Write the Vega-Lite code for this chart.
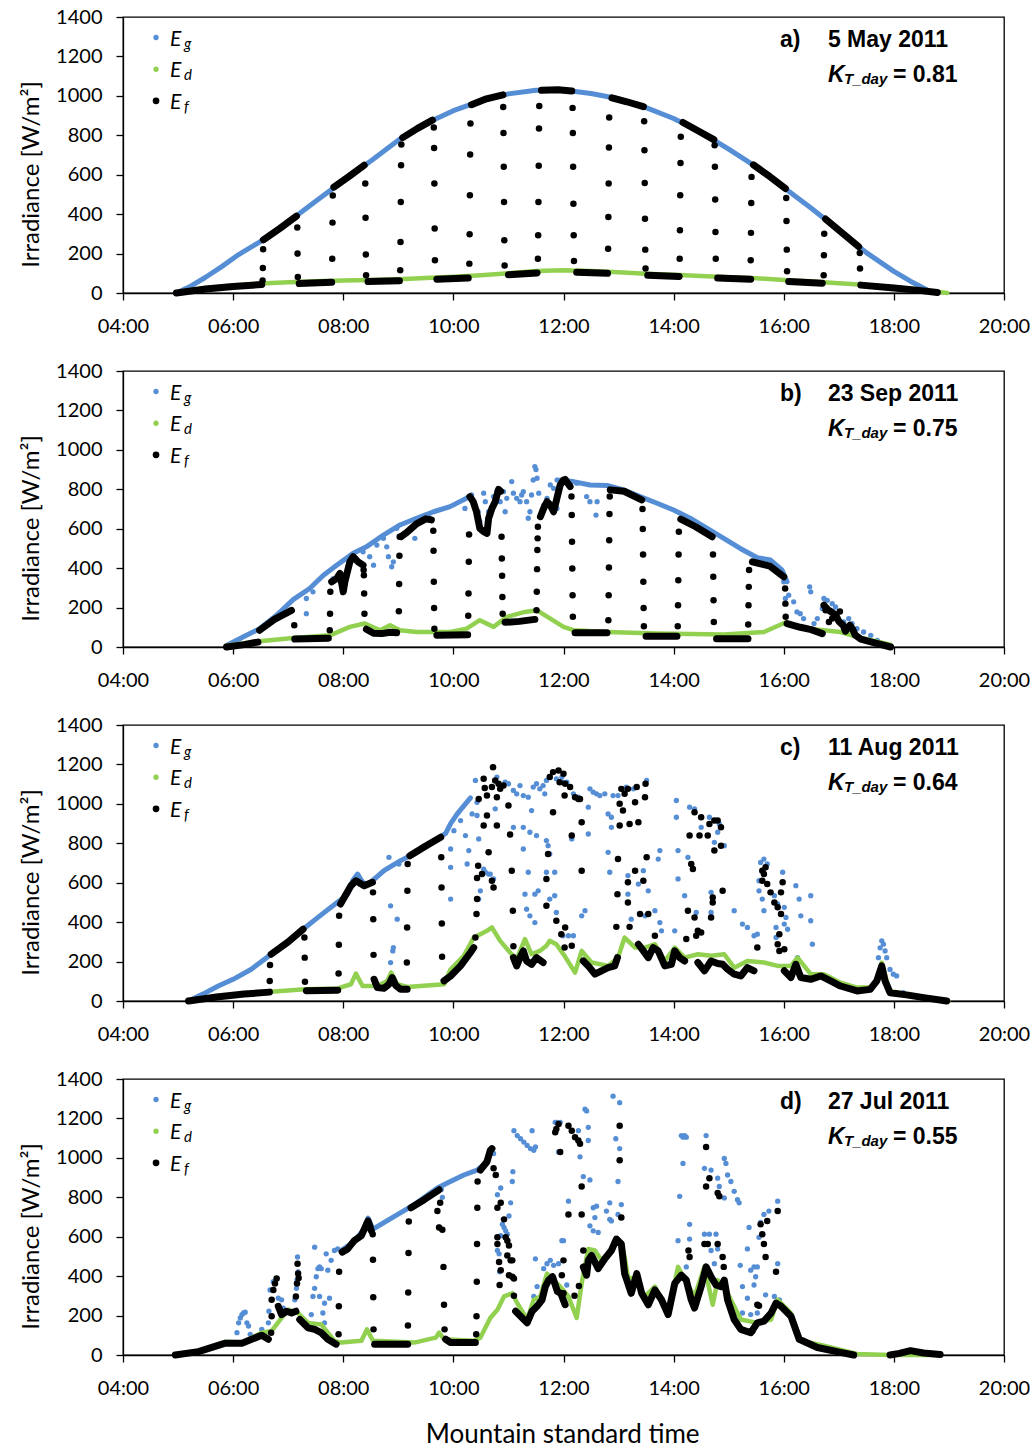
{
"$schema":"https://vega.github.io/schema/vega-lite/v6.json",
"background":"white",
"padding":{"left":18,"top":6,"right":6,"bottom":4},
"title":{"text":"Mountain standard time","orient":"bottom","anchor":"middle","font":"Lato","fontSize":26,"fontWeight":"normal","color":"#000","offset":23,"dx":38},
"data":{"values":[
{"p":"a","s":"T","t":15.93,"v":1249,"lab":"a)","dt":"5 May 2011","kt":"= 0.81"},
{"p":"b","s":"T","t":15.93,"v":1249,"lab":"b)","dt":"23 Sep 2011","kt":"= 0.75"},
{"p":"c","s":"T","t":15.93,"v":1249,"lab":"c)","dt":"11 Aug 2011","kt":"= 0.64"},
{"p":"d","s":"T","t":15.93,"v":1249,"lab":"d)","dt":"27 Jul 2011","kt":"= 0.55"},

{"p":"a","s":"g","t":4.97,"v":0},{"p":"a","s":"g","t":5.2,"v":30},{"p":"a","s":"g","t":5.5,"v":80},{"p":"a","s":"g","t":5.8,"v":135},{"p":"a","s":"g","t":6.1,"v":195},{"p":"a","s":"g","t":6.5,"v":262},{"p":"a","s":"g","t":7.0,"v":360},{"p":"a","s":"g","t":7.5,"v":465},{"p":"a","s":"g","t":8.0,"v":570},{"p":"a","s":"g","t":8.5,"v":670},{"p":"a","s":"g","t":9.0,"v":775},{"p":"a","s":"g","t":9.5,"v":860},{"p":"a","s":"g","t":10.0,"v":925},{"p":"a","s":"g","t":10.5,"v":975},{"p":"a","s":"g","t":11.0,"v":1010},{"p":"a","s":"g","t":11.5,"v":1028},{"p":"a","s":"g","t":12.0,"v":1030},{"p":"a","s":"g","t":12.5,"v":1012},{"p":"a","s":"g","t":13.0,"v":985},{"p":"a","s":"g","t":13.5,"v":940},{"p":"a","s":"g","t":14.0,"v":885},{"p":"a","s":"g","t":14.5,"v":815},{"p":"a","s":"g","t":15.0,"v":730},{"p":"a","s":"g","t":15.5,"v":640},{"p":"a","s":"g","t":16.0,"v":535},{"p":"a","s":"g","t":16.5,"v":430},{"p":"a","s":"g","t":17.0,"v":320},{"p":"a","s":"g","t":17.5,"v":205},{"p":"a","s":"g","t":18.0,"v":110},{"p":"a","s":"g","t":18.3,"v":60},{"p":"a","s":"g","t":18.64,"v":10},

{"p":"a","s":"d","t":4.97,"v":0},{"p":"a","s":"d","t":5.5,"v":25},{"p":"a","s":"d","t":6.0,"v":38},{"p":"a","s":"d","t":6.5,"v":48},{"p":"a","s":"d","t":7.0,"v":55},{"p":"a","s":"d","t":7.5,"v":60},{"p":"a","s":"d","t":8.0,"v":63},{"p":"a","s":"d","t":8.5,"v":66},{"p":"a","s":"d","t":9.0,"v":70},{"p":"a","s":"d","t":9.5,"v":76},{"p":"a","s":"d","t":10.0,"v":82},{"p":"a","s":"d","t":10.5,"v":90},{"p":"a","s":"d","t":11.0,"v":100},{"p":"a","s":"d","t":11.5,"v":112},{"p":"a","s":"d","t":12.0,"v":116},{"p":"a","s":"d","t":12.5,"v":112},{"p":"a","s":"d","t":13.0,"v":105},{"p":"a","s":"d","t":13.5,"v":98},{"p":"a","s":"d","t":14.0,"v":92},{"p":"a","s":"d","t":14.5,"v":86},{"p":"a","s":"d","t":15.0,"v":80},{"p":"a","s":"d","t":15.5,"v":75},{"p":"a","s":"d","t":16.0,"v":66},{"p":"a","s":"d","t":16.5,"v":58},{"p":"a","s":"d","t":17.0,"v":50},{"p":"a","s":"d","t":17.5,"v":40},{"p":"a","s":"d","t":18.0,"v":30},{"p":"a","s":"d","t":18.5,"v":15},{"p":"a","s":"d","t":18.97,"v":0},

{"p":"a","s":"f1","t":4.97,"v":0},{"p":"a","s":"f1","t":5.5,"v":20},{"p":"a","s":"f1","t":6.0,"v":33},{"p":"a","s":"f1","t":6.52,"v":43},
{"p":"a","s":"f2","t":6.55,"v":270},{"p":"a","s":"f2","t":6.85,"v":328},{"p":"a","s":"f2","t":7.15,"v":390},
{"p":"a","s":"f3","t":7.2,"v":48},{"p":"a","s":"f3","t":7.79,"v":54},
{"p":"a","s":"f4","t":7.83,"v":537},{"p":"a","s":"f4","t":8.1,"v":590},{"p":"a","s":"f4","t":8.38,"v":648},
{"p":"a","s":"f5","t":8.45,"v":58},{"p":"a","s":"f5","t":9.02,"v":62},
{"p":"a","s":"f6","t":9.08,"v":788},{"p":"a","s":"f6","t":9.35,"v":835},{"p":"a","s":"f6","t":9.62,"v":877},
{"p":"a","s":"f7","t":9.7,"v":70},{"p":"a","s":"f7","t":10.27,"v":76},
{"p":"a","s":"f8","t":10.33,"v":955},{"p":"a","s":"f8","t":10.6,"v":985},{"p":"a","s":"f8","t":10.9,"v":1005},
{"p":"a","s":"f9","t":11.0,"v":92},{"p":"a","s":"f9","t":11.52,"v":102},
{"p":"a","s":"f10","t":11.6,"v":1028},{"p":"a","s":"f10","t":11.9,"v":1031},{"p":"a","s":"f10","t":12.15,"v":1025},
{"p":"a","s":"f11","t":12.24,"v":105},{"p":"a","s":"f11","t":12.8,"v":100},
{"p":"a","s":"f12","t":12.88,"v":990},{"p":"a","s":"f12","t":13.15,"v":970},{"p":"a","s":"f12","t":13.45,"v":945},
{"p":"a","s":"f13","t":13.53,"v":90},{"p":"a","s":"f13","t":14.1,"v":84},
{"p":"a","s":"f14","t":14.17,"v":865},{"p":"a","s":"f14","t":14.45,"v":822},{"p":"a","s":"f14","t":14.73,"v":778},
{"p":"a","s":"f15","t":14.8,"v":76},{"p":"a","s":"f15","t":15.4,"v":70},
{"p":"a","s":"f16","t":15.45,"v":650},{"p":"a","s":"f16","t":15.75,"v":590},{"p":"a","s":"f16","t":16.03,"v":530},
{"p":"a","s":"f17","t":16.09,"v":58},{"p":"a","s":"f17","t":16.7,"v":50},
{"p":"a","s":"f18","t":16.76,"v":375},{"p":"a","s":"f18","t":17.06,"v":305},{"p":"a","s":"f18","t":17.36,"v":235},
{"p":"a","s":"f19","t":17.4,"v":40},{"p":"a","s":"f19","t":18.0,"v":25},{"p":"a","s":"f19","t":18.5,"v":12},{"p":"a","s":"f19","t":18.79,"v":3},

{"p":"a","s":"F","t":6.535,"v":64},{"p":"a","s":"F","t":6.54,"v":127},{"p":"a","s":"F","t":6.545,"v":222},
{"p":"a","s":"F","t":7.165,"v":332},{"p":"a","s":"F","t":7.17,"v":200},{"p":"a","s":"F","t":7.175,"v":81},
{"p":"a","s":"F","t":7.8,"v":174},{"p":"a","s":"F","t":7.805,"v":357},{"p":"a","s":"F","t":7.81,"v":494},
{"p":"a","s":"F","t":8.4,"v":555},{"p":"a","s":"F","t":8.405,"v":382},{"p":"a","s":"F","t":8.41,"v":195},{"p":"a","s":"F","t":8.415,"v":90},
{"p":"a","s":"F","t":9.035,"v":115},{"p":"a","s":"F","t":9.04,"v":259},{"p":"a","s":"F","t":9.045,"v":462},{"p":"a","s":"F","t":9.05,"v":648},{"p":"a","s":"F","t":9.055,"v":753},
{"p":"a","s":"F","t":9.645,"v":839},{"p":"a","s":"F","t":9.65,"v":736},{"p":"a","s":"F","t":9.655,"v":555},{"p":"a","s":"F","t":9.66,"v":327},{"p":"a","s":"F","t":9.665,"v":166},
{"p":"a","s":"F","t":10.29,"v":149},{"p":"a","s":"F","t":10.295,"v":298},{"p":"a","s":"F","t":10.3,"v":496},{"p":"a","s":"F","t":10.305,"v":702},{"p":"a","s":"F","t":10.31,"v":860},
{"p":"a","s":"F","t":10.905,"v":944},{"p":"a","s":"F","t":10.91,"v":812},{"p":"a","s":"F","t":10.915,"v":640},{"p":"a","s":"F","t":10.92,"v":462},{"p":"a","s":"F","t":10.925,"v":267},{"p":"a","s":"F","t":10.93,"v":140},
{"p":"a","s":"F","t":11.535,"v":174},{"p":"a","s":"F","t":11.54,"v":293},{"p":"a","s":"F","t":11.545,"v":462},{"p":"a","s":"F","t":11.55,"v":645},{"p":"a","s":"F","t":11.555,"v":834},{"p":"a","s":"F","t":11.56,"v":948},
{"p":"a","s":"F","t":12.165,"v":939},{"p":"a","s":"F","t":12.17,"v":812},{"p":"a","s":"F","t":12.175,"v":640},{"p":"a","s":"F","t":12.18,"v":453},{"p":"a","s":"F","t":12.185,"v":293},{"p":"a","s":"F","t":12.19,"v":162},
{"p":"a","s":"F","t":12.81,"v":225},{"p":"a","s":"F","t":12.815,"v":386},{"p":"a","s":"F","t":12.82,"v":555},{"p":"a","s":"F","t":12.825,"v":738},{"p":"a","s":"F","t":12.83,"v":890},
{"p":"a","s":"F","t":13.465,"v":871},{"p":"a","s":"F","t":13.47,"v":724},{"p":"a","s":"F","t":13.475,"v":558},{"p":"a","s":"F","t":13.48,"v":377},{"p":"a","s":"F","t":13.485,"v":220},{"p":"a","s":"F","t":13.49,"v":124},
{"p":"a","s":"F","t":14.11,"v":174},{"p":"a","s":"F","t":14.115,"v":318},{"p":"a","s":"F","t":14.12,"v":496},{"p":"a","s":"F","t":14.125,"v":660},{"p":"a","s":"F","t":14.13,"v":792},
{"p":"a","s":"F","t":14.745,"v":750},{"p":"a","s":"F","t":14.75,"v":640},{"p":"a","s":"F","t":14.755,"v":474},{"p":"a","s":"F","t":14.76,"v":310},{"p":"a","s":"F","t":14.765,"v":174},
{"p":"a","s":"F","t":15.4,"v":166},{"p":"a","s":"F","t":15.405,"v":305},{"p":"a","s":"F","t":15.41,"v":457},{"p":"a","s":"F","t":15.415,"v":589},
{"p":"a","s":"F","t":16.045,"v":482},{"p":"a","s":"F","t":16.05,"v":365},{"p":"a","s":"F","t":16.055,"v":220},{"p":"a","s":"F","t":16.06,"v":110},
{"p":"a","s":"F","t":16.725,"v":90},{"p":"a","s":"F","t":16.73,"v":191},{"p":"a","s":"F","t":16.735,"v":301},
{"p":"a","s":"F","t":17.38,"v":203},{"p":"a","s":"F","t":17.385,"v":124},

{"p":"b","s":"g","t":5.88,"v":8},{"p":"b","s":"g","t":6.18,"v":51},{"p":"b","s":"g","t":6.48,"v":93},{"p":"b","s":"g","t":6.79,"v":161},{"p":"b","s":"g","t":7.09,"v":240},{"p":"b","s":"g","t":7.39,"v":297},{"p":"b","s":"g","t":7.64,"v":364},{"p":"b","s":"g","t":7.88,"v":415},{"p":"b","s":"g","t":8.18,"v":475},{"p":"b","s":"g","t":8.42,"v":508},{"p":"b","s":"g","t":8.73,"v":568},{"p":"b","s":"g","t":9.03,"v":619},{"p":"b","s":"g","t":9.33,"v":653},{"p":"b","s":"g","t":9.64,"v":686},{"p":"b","s":"g","t":9.94,"v":712},{"p":"b","s":"g","t":10.3,"v":763},
{"p":"b","s":"g2","t":11.88,"v":847},{"p":"b","s":"g2","t":12.18,"v":839},{"p":"b","s":"g2","t":12.48,"v":822},{"p":"b","s":"g2","t":12.79,"v":819},{"p":"b","s":"g2","t":13.09,"v":797},{"p":"b","s":"g2","t":13.39,"v":763},{"p":"b","s":"g2","t":13.7,"v":729},{"p":"b","s":"g2","t":14.0,"v":695},{"p":"b","s":"g2","t":14.3,"v":653},{"p":"b","s":"g2","t":14.61,"v":602},{"p":"b","s":"g2","t":14.91,"v":551},{"p":"b","s":"g2","t":15.21,"v":500},{"p":"b","s":"g2","t":15.52,"v":453},{"p":"b","s":"g2","t":15.76,"v":441},{"p":"b","s":"g2","t":15.97,"v":390},{"p":"b","s":"g2","t":16.06,"v":331},

{"p":"b","s":"G","t":7.33,"v":246},{"p":"b","s":"G","t":7.33,"v":169},{"p":"b","s":"G","t":7.45,"v":280},{"p":"b","s":"G","t":7.82,"v":347},{"p":"b","s":"G","t":8.0,"v":314},{"p":"b","s":"G","t":8.03,"v":347},{"p":"b","s":"G","t":8.36,"v":483},{"p":"b","s":"G","t":8.48,"v":458},{"p":"b","s":"G","t":8.55,"v":415},{"p":"b","s":"G","t":8.61,"v":517},{"p":"b","s":"G","t":8.73,"v":551},{"p":"b","s":"G","t":8.79,"v":508},{"p":"b","s":"G","t":8.82,"v":458},{"p":"b","s":"G","t":8.88,"v":407},{"p":"b","s":"G","t":8.91,"v":432},{"p":"b","s":"G","t":8.97,"v":602},{"p":"b","s":"G","t":9.3,"v":551},{"p":"b","s":"G","t":9.55,"v":661},{"p":"b","s":"G","t":10.21,"v":703},
{"p":"b","s":"G","t":10.33,"v":771},{"p":"b","s":"G","t":10.39,"v":720},{"p":"b","s":"G","t":10.45,"v":686},{"p":"b","s":"G","t":10.48,"v":636},{"p":"b","s":"G","t":10.55,"v":780},{"p":"b","s":"G","t":10.58,"v":737},{"p":"b","s":"G","t":10.64,"v":686},{"p":"b","s":"G","t":10.73,"v":763},{"p":"b","s":"G","t":10.79,"v":788},{"p":"b","s":"G","t":10.85,"v":737},{"p":"b","s":"G","t":10.91,"v":788},{"p":"b","s":"G","t":10.94,"v":686},{"p":"b","s":"G","t":10.97,"v":754},{"p":"b","s":"G","t":11.06,"v":839},{"p":"b","s":"G","t":11.09,"v":780},{"p":"b","s":"G","t":11.15,"v":754},{"p":"b","s":"G","t":11.21,"v":737},{"p":"b","s":"G","t":11.24,"v":771},{"p":"b","s":"G","t":11.27,"v":788},{"p":"b","s":"G","t":11.33,"v":737},{"p":"b","s":"G","t":11.36,"v":653},{"p":"b","s":"G","t":11.39,"v":686},{"p":"b","s":"G","t":11.42,"v":771},{"p":"b","s":"G","t":11.45,"v":847},{"p":"b","s":"G","t":11.48,"v":915},{"p":"b","s":"G","t":11.5,"v":900},{"p":"b","s":"G","t":11.52,"v":856},{"p":"b","s":"G","t":11.55,"v":780},{"p":"b","s":"G","t":11.58,"v":669},{"p":"b","s":"G","t":11.64,"v":720},{"p":"b","s":"G","t":11.7,"v":754},{"p":"b","s":"G","t":11.76,"v":822},{"p":"b","s":"G","t":11.82,"v":805},{"p":"b","s":"G","t":11.88,"v":703},{"p":"b","s":"G","t":11.94,"v":822},
{"p":"b","s":"G","t":12.24,"v":831},{"p":"b","s":"G","t":12.42,"v":763},{"p":"b","s":"G","t":12.48,"v":737},{"p":"b","s":"G","t":12.59,"v":669},{"p":"b","s":"G","t":12.61,"v":737},
{"p":"b","s":"G","t":16.0,"v":331},{"p":"b","s":"G","t":16.03,"v":246},{"p":"b","s":"G","t":16.09,"v":263},{"p":"b","s":"G","t":16.18,"v":229},{"p":"b","s":"G","t":16.24,"v":178},{"p":"b","s":"G","t":16.3,"v":169},{"p":"b","s":"G","t":16.36,"v":144},{"p":"b","s":"G","t":16.47,"v":305},{"p":"b","s":"G","t":16.49,"v":280},{"p":"b","s":"G","t":16.55,"v":119},{"p":"b","s":"G","t":16.61,"v":144},{"p":"b","s":"G","t":16.7,"v":195},{"p":"b","s":"G","t":16.73,"v":246},{"p":"b","s":"G","t":16.79,"v":237},{"p":"b","s":"G","t":16.88,"v":220},{"p":"b","s":"G","t":16.94,"v":203},{"p":"b","s":"G","t":17.0,"v":178},{"p":"b","s":"G","t":17.09,"v":127},{"p":"b","s":"G","t":17.18,"v":144},{"p":"b","s":"G","t":17.24,"v":119},{"p":"b","s":"G","t":17.33,"v":93},{"p":"b","s":"G","t":17.45,"v":76},{"p":"b","s":"G","t":17.58,"v":59},{"p":"b","s":"G","t":17.7,"v":34},{"p":"b","s":"G","t":17.88,"v":12},

{"p":"b","s":"d","t":5.88,"v":8},{"p":"b","s":"d","t":6.48,"v":29},{"p":"b","s":"d","t":7.09,"v":46},{"p":"b","s":"d","t":7.76,"v":59},{"p":"b","s":"d","t":8.12,"v":102},{"p":"b","s":"d","t":8.39,"v":119},{"p":"b","s":"d","t":8.67,"v":85},{"p":"b","s":"d","t":8.85,"v":110},{"p":"b","s":"d","t":9.03,"v":85},{"p":"b","s":"d","t":9.33,"v":76},{"p":"b","s":"d","t":9.94,"v":76},{"p":"b","s":"d","t":10.24,"v":93},{"p":"b","s":"d","t":10.48,"v":136},{"p":"b","s":"d","t":10.73,"v":102},{"p":"b","s":"d","t":10.97,"v":153},{"p":"b","s":"d","t":11.3,"v":178},{"p":"b","s":"d","t":11.52,"v":186},{"p":"b","s":"d","t":11.76,"v":144},{"p":"b","s":"d","t":12.0,"v":102},{"p":"b","s":"d","t":12.18,"v":85},{"p":"b","s":"d","t":12.79,"v":76},{"p":"b","s":"d","t":13.7,"v":68},{"p":"b","s":"d","t":14.91,"v":63},{"p":"b","s":"d","t":15.64,"v":76},{"p":"b","s":"d","t":16.03,"v":124},{"p":"b","s":"d","t":16.42,"v":93},{"p":"b","s":"d","t":16.73,"v":85},{"p":"b","s":"d","t":17.03,"v":76},{"p":"b","s":"d","t":17.33,"v":51},{"p":"b","s":"d","t":17.94,"v":12},

{"p":"b","s":"f1","t":5.88,"v":0},{"p":"b","s":"f1","t":6.2,"v":12},{"p":"b","s":"f1","t":6.45,"v":25},
{"p":"b","s":"f2","t":6.48,"v":85},{"p":"b","s":"f2","t":6.75,"v":140},{"p":"b","s":"f2","t":7.06,"v":186},
{"p":"b","s":"f3","t":7.12,"v":40},{"p":"b","s":"f3","t":7.73,"v":45},
{"p":"b","s":"f4","t":7.79,"v":331},{"p":"b","s":"f4","t":7.88,"v":347},{"p":"b","s":"f4","t":7.94,"v":373},{"p":"b","s":"f4","t":8.0,"v":280},{"p":"b","s":"f4","t":8.03,"v":331},{"p":"b","s":"f4","t":8.12,"v":432},{"p":"b","s":"f4","t":8.18,"v":458},{"p":"b","s":"f4","t":8.27,"v":432},{"p":"b","s":"f4","t":8.36,"v":415},
{"p":"b","s":"f5","t":8.42,"v":90},{"p":"b","s":"f5","t":8.55,"v":70},{"p":"b","s":"f5","t":8.7,"v":68},{"p":"b","s":"f5","t":8.85,"v":75},{"p":"b","s":"f5","t":8.97,"v":72},
{"p":"b","s":"f6","t":9.05,"v":560},{"p":"b","s":"f6","t":9.15,"v":580},{"p":"b","s":"f6","t":9.33,"v":625},{"p":"b","s":"f6","t":9.5,"v":650},{"p":"b","s":"f6","t":9.6,"v":645},
{"p":"b","s":"f7","t":9.7,"v":60},{"p":"b","s":"f7","t":10.26,"v":62},
{"p":"b","s":"f8","t":10.3,"v":763},{"p":"b","s":"f8","t":10.36,"v":737},{"p":"b","s":"f8","t":10.42,"v":686},{"p":"b","s":"f8","t":10.48,"v":602},{"p":"b","s":"f8","t":10.55,"v":585},{"p":"b","s":"f8","t":10.61,"v":576},{"p":"b","s":"f8","t":10.64,"v":653},{"p":"b","s":"f8","t":10.7,"v":703},{"p":"b","s":"f8","t":10.76,"v":737},{"p":"b","s":"f8","t":10.82,"v":800},{"p":"b","s":"f8","t":10.86,"v":790},
{"p":"b","s":"f9","t":10.94,"v":125},{"p":"b","s":"f9","t":11.2,"v":130},{"p":"b","s":"f9","t":11.48,"v":140},
{"p":"b","s":"f10","t":11.58,"v":661},{"p":"b","s":"f10","t":11.64,"v":703},{"p":"b","s":"f10","t":11.7,"v":737},{"p":"b","s":"f10","t":11.76,"v":720},{"p":"b","s":"f10","t":11.82,"v":686},{"p":"b","s":"f10","t":11.88,"v":754},{"p":"b","s":"f10","t":11.94,"v":822},{"p":"b","s":"f10","t":12.0,"v":847},{"p":"b","s":"f10","t":12.03,"v":850},{"p":"b","s":"f10","t":12.12,"v":814},
{"p":"b","s":"f11","t":12.21,"v":72},{"p":"b","s":"f11","t":12.79,"v":72},
{"p":"b","s":"f12","t":12.85,"v":797},{"p":"b","s":"f12","t":13.1,"v":790},{"p":"b","s":"f12","t":13.42,"v":746},
{"p":"b","s":"f13","t":13.5,"v":55},{"p":"b","s":"f13","t":14.06,"v":55},
{"p":"b","s":"f14","t":14.13,"v":649},{"p":"b","s":"f14","t":14.4,"v":610},{"p":"b","s":"f14","t":14.7,"v":559},
{"p":"b","s":"f15","t":14.78,"v":42},{"p":"b","s":"f15","t":15.35,"v":42},
{"p":"b","s":"f16","t":15.43,"v":432},{"p":"b","s":"f16","t":15.6,"v":420},{"p":"b","s":"f16","t":15.75,"v":410},{"p":"b","s":"f16","t":16.0,"v":356},
{"p":"b","s":"f17","t":16.06,"v":119},{"p":"b","s":"f17","t":16.3,"v":100},{"p":"b","s":"f17","t":16.5,"v":88},{"p":"b","s":"f17","t":16.7,"v":68},
{"p":"b","s":"f18","t":16.73,"v":212},{"p":"b","s":"f18","t":16.8,"v":190},{"p":"b","s":"f18","t":16.88,"v":175},{"p":"b","s":"f18","t":16.95,"v":160},{"p":"b","s":"f18","t":17.0,"v":130},{"p":"b","s":"f18","t":17.08,"v":110},{"p":"b","s":"f18","t":17.12,"v":80},{"p":"b","s":"f18","t":17.2,"v":110},{"p":"b","s":"f18","t":17.25,"v":90},{"p":"b","s":"f18","t":17.3,"v":60},{"p":"b","s":"f18","t":17.4,"v":40},{"p":"b","s":"f18","t":17.6,"v":25},{"p":"b","s":"f18","t":17.94,"v":0},

{"p":"b","s":"F","t":7.11,"v":110},
{"p":"b","s":"F","t":7.755,"v":85},{"p":"b","s":"F","t":7.76,"v":169},{"p":"b","s":"F","t":7.765,"v":280},
{"p":"b","s":"F","t":8.37,"v":390},{"p":"b","s":"F","t":8.375,"v":364},{"p":"b","s":"F","t":8.38,"v":271},{"p":"b","s":"F","t":8.385,"v":169},
{"p":"b","s":"F","t":9.01,"v":181},{"p":"b","s":"F","t":9.015,"v":319},{"p":"b","s":"F","t":9.02,"v":463},{"p":"b","s":"F","t":9.025,"v":559},
{"p":"b","s":"F","t":9.635,"v":590},{"p":"b","s":"F","t":9.64,"v":488},{"p":"b","s":"F","t":9.645,"v":331},{"p":"b","s":"F","t":9.65,"v":198},{"p":"b","s":"F","t":9.655,"v":93},
{"p":"b","s":"F","t":10.27,"v":158},{"p":"b","s":"F","t":10.275,"v":271},{"p":"b","s":"F","t":10.28,"v":432},{"p":"b","s":"F","t":10.285,"v":571},
{"p":"b","s":"F","t":10.875,"v":559},{"p":"b","s":"F","t":10.88,"v":449},{"p":"b","s":"F","t":10.885,"v":361},{"p":"b","s":"F","t":10.89,"v":254},{"p":"b","s":"F","t":10.895,"v":169},
{"p":"b","s":"F","t":11.51,"v":186},{"p":"b","s":"F","t":11.515,"v":280},{"p":"b","s":"F","t":11.52,"v":395},{"p":"b","s":"F","t":11.525,"v":492},{"p":"b","s":"F","t":11.53,"v":551},{"p":"b","s":"F","t":11.535,"v":610},
{"p":"b","s":"F","t":12.145,"v":763},{"p":"b","s":"F","t":12.15,"v":669},{"p":"b","s":"F","t":12.155,"v":534},{"p":"b","s":"F","t":12.16,"v":398},{"p":"b","s":"F","t":12.165,"v":263},{"p":"b","s":"F","t":12.17,"v":153},
{"p":"b","s":"F","t":12.815,"v":136},{"p":"b","s":"F","t":12.82,"v":263},{"p":"b","s":"F","t":12.825,"v":403},{"p":"b","s":"F","t":12.83,"v":542},{"p":"b","s":"F","t":12.835,"v":675},{"p":"b","s":"F","t":12.84,"v":763},
{"p":"b","s":"F","t":13.435,"v":700},{"p":"b","s":"F","t":13.44,"v":598},{"p":"b","s":"F","t":13.445,"v":469},{"p":"b","s":"F","t":13.45,"v":331},{"p":"b","s":"F","t":13.455,"v":198},{"p":"b","s":"F","t":13.46,"v":105},
{"p":"b","s":"F","t":14.075,"v":105},{"p":"b","s":"F","t":14.08,"v":212},{"p":"b","s":"F","t":14.085,"v":339},{"p":"b","s":"F","t":14.09,"v":469},{"p":"b","s":"F","t":14.095,"v":585},
{"p":"b","s":"F","t":14.715,"v":469},{"p":"b","s":"F","t":14.72,"v":356},{"p":"b","s":"F","t":14.725,"v":237},{"p":"b","s":"F","t":14.73,"v":127},
{"p":"b","s":"F","t":15.355,"v":114},{"p":"b","s":"F","t":15.36,"v":212},{"p":"b","s":"F","t":15.365,"v":305},{"p":"b","s":"F","t":15.37,"v":390},
{"p":"b","s":"F","t":16.025,"v":297},{"p":"b","s":"F","t":16.03,"v":220},{"p":"b","s":"F","t":16.035,"v":153},
{"p":"b","s":"F","t":16.76,"v":186},{"p":"b","s":"F","t":16.82,"v":127},{"p":"b","s":"F","t":16.88,"v":144},{"p":"b","s":"F","t":16.91,"v":169},{"p":"b","s":"F","t":17.02,"v":180},{"p":"b","s":"F","t":17.15,"v":100},

{"p":"c","s":"g","t":5.19,"v":0},{"p":"c","s":"g","t":5.45,"v":35},{"p":"c","s":"g","t":5.73,"v":76},{"p":"c","s":"g","t":6.0,"v":110},{"p":"c","s":"g","t":6.33,"v":161},{"p":"c","s":"g","t":6.69,"v":237},{"p":"c","s":"g","t":7.0,"v":300},{"p":"c","s":"g","t":7.27,"v":364},{"p":"c","s":"g","t":7.54,"v":424},{"p":"c","s":"g","t":7.93,"v":508},{"p":"c","s":"g","t":8.08,"v":542},{"p":"c","s":"g","t":8.17,"v":610},{"p":"c","s":"g","t":8.26,"v":644},{"p":"c","s":"g","t":8.35,"v":602},{"p":"c","s":"g","t":8.44,"v":593},{"p":"c","s":"g","t":8.53,"v":610},{"p":"c","s":"g","t":8.74,"v":661},{"p":"c","s":"g","t":9.04,"v":712},{"p":"c","s":"g","t":9.34,"v":754},{"p":"c","s":"g","t":9.7,"v":822},{"p":"c","s":"g","t":9.86,"v":850},{"p":"c","s":"g","t":9.95,"v":900},{"p":"c","s":"g","t":10.07,"v":949},{"p":"c","s":"g","t":10.19,"v":990},{"p":"c","s":"g","t":10.31,"v":1030},

{"p":"c","s":"G","t":8.83,"v":729},{"p":"c","s":"G","t":9.01,"v":695},{"p":"c","s":"G","t":8.86,"v":483},{"p":"c","s":"G","t":8.98,"v":415},{"p":"c","s":"G","t":8.91,"v":271},{"p":"c","s":"G","t":8.9,"v":254},{"p":"c","s":"G","t":8.86,"v":195},{"p":"c","s":"G","t":9.95,"v":771},{"p":"c","s":"G","t":9.95,"v":678},{"p":"c","s":"G","t":9.95,"v":517},{"p":"c","s":"G","t":10.01,"v":864},{"p":"c","s":"G","t":10.13,"v":915},{"p":"c","s":"G","t":10.22,"v":839},{"p":"c","s":"G","t":10.25,"v":695},{"p":"c","s":"G","t":10.28,"v":763},{"p":"c","s":"G","t":10.34,"v":949},{"p":"c","s":"G","t":10.43,"v":941},{"p":"c","s":"G","t":10.46,"v":822},{"p":"c","s":"G","t":10.43,"v":1008},{"p":"c","s":"G","t":10.4,"v":1119},{"p":"c","s":"G","t":10.46,"v":517},{"p":"c","s":"G","t":10.49,"v":559},{"p":"c","s":"G","t":10.55,"v":669},{"p":"c","s":"G","t":10.58,"v":653},{"p":"c","s":"G","t":10.64,"v":644},{"p":"c","s":"G","t":10.67,"v":644},{"p":"c","s":"G","t":10.73,"v":619},{"p":"c","s":"G","t":10.76,"v":975},{"p":"c","s":"G","t":10.73,"v":1186},{"p":"c","s":"G","t":10.79,"v":1136},{"p":"c","s":"G","t":10.85,"v":1085},{"p":"c","s":"G","t":10.94,"v":1110},{"p":"c","s":"G","t":11.0,"v":1102},{"p":"c","s":"G","t":11.09,"v":1068},{"p":"c","s":"G","t":11.15,"v":1051},{"p":"c","s":"G","t":11.21,"v":1093},{"p":"c","s":"G","t":11.27,"v":1042},{"p":"c","s":"G","t":11.36,"v":1034},{"p":"c","s":"G","t":11.42,"v":966},{"p":"c","s":"G","t":11.45,"v":1085},{"p":"c","s":"G","t":11.51,"v":1102},{"p":"c","s":"G","t":11.57,"v":1076},{"p":"c","s":"G","t":11.63,"v":1093},{"p":"c","s":"G","t":11.66,"v":1051},{"p":"c","s":"G","t":11.69,"v":1119},{"p":"c","s":"G","t":11.75,"v":1136},{"p":"c","s":"G","t":11.87,"v":1127},{"p":"c","s":"G","t":11.99,"v":1110},{"p":"c","s":"G","t":11.09,"v":881},{"p":"c","s":"G","t":11.27,"v":881},{"p":"c","s":"G","t":11.39,"v":856},{"p":"c","s":"G","t":11.51,"v":839},{"p":"c","s":"G","t":11.69,"v":814},{"p":"c","s":"G","t":11.72,"v":788},{"p":"c","s":"G","t":11.75,"v":746},{"p":"c","s":"G","t":11.27,"v":771},{"p":"c","s":"G","t":11.36,"v":653},{"p":"c","s":"G","t":11.54,"v":559},{"p":"c","s":"G","t":11.3,"v":542},{"p":"c","s":"G","t":11.48,"v":542},{"p":"c","s":"G","t":11.33,"v":466},{"p":"c","s":"G","t":11.39,"v":432},{"p":"c","s":"G","t":11.48,"v":398},{"p":"c","s":"G","t":11.69,"v":653},{"p":"c","s":"G","t":11.75,"v":517},{"p":"c","s":"G","t":11.84,"v":534},{"p":"c","s":"G","t":11.87,"v":449},{"p":"c","s":"G","t":11.99,"v":331},{"p":"c","s":"G","t":11.84,"v":653},
{"p":"c","s":"G","t":11.97,"v":1136},{"p":"c","s":"G","t":12.06,"v":1110},{"p":"c","s":"G","t":12.18,"v":1051},{"p":"c","s":"G","t":12.27,"v":1034},{"p":"c","s":"G","t":12.48,"v":1076},{"p":"c","s":"G","t":12.54,"v":1059},{"p":"c","s":"G","t":12.6,"v":1051},{"p":"c","s":"G","t":12.66,"v":1042},{"p":"c","s":"G","t":12.75,"v":1051},{"p":"c","s":"G","t":12.9,"v":1042},{"p":"c","s":"G","t":12.99,"v":1042},{"p":"c","s":"G","t":13.08,"v":1076},{"p":"c","s":"G","t":13.14,"v":1085},{"p":"c","s":"G","t":13.27,"v":1076},{"p":"c","s":"G","t":13.51,"v":1119},{"p":"c","s":"G","t":12.45,"v":983},{"p":"c","s":"G","t":12.81,"v":949},{"p":"c","s":"G","t":12.87,"v":932},{"p":"c","s":"G","t":12.87,"v":881},{"p":"c","s":"G","t":12.45,"v":847},{"p":"c","s":"G","t":12.15,"v":822},{"p":"c","s":"G","t":12.81,"v":754},{"p":"c","s":"G","t":12.84,"v":653},{"p":"c","s":"G","t":13.17,"v":636},{"p":"c","s":"G","t":13.17,"v":542},{"p":"c","s":"G","t":13.36,"v":593},{"p":"c","s":"G","t":13.45,"v":661},{"p":"c","s":"G","t":13.54,"v":559},{"p":"c","s":"G","t":13.72,"v":720},{"p":"c","s":"G","t":13.66,"v":458},{"p":"c","s":"G","t":13.75,"v":763},{"p":"c","s":"G","t":12.39,"v":458},{"p":"c","s":"G","t":12.33,"v":432},{"p":"c","s":"G","t":12.09,"v":331},{"p":"c","s":"G","t":12.18,"v":331},{"p":"c","s":"G","t":13.23,"v":415},{"p":"c","s":"G","t":13.48,"v":432},{"p":"c","s":"G","t":13.75,"v":398},{"p":"c","s":"G","t":13.78,"v":356},{"p":"c","s":"G","t":14.02,"v":356},{"p":"c","s":"G","t":14.05,"v":1017},{"p":"c","s":"G","t":14.05,"v":932},{"p":"c","s":"G","t":14.08,"v":763},{"p":"c","s":"G","t":14.08,"v":619},{"p":"c","s":"G","t":14.2,"v":534},{"p":"c","s":"G","t":14.26,"v":729},{"p":"c","s":"G","t":14.29,"v":983},{"p":"c","s":"G","t":14.38,"v":975},{"p":"c","s":"G","t":14.5,"v":881},{"p":"c","s":"G","t":14.65,"v":932},{"p":"c","s":"G","t":14.83,"v":898},{"p":"c","s":"G","t":14.92,"v":788},{"p":"c","s":"G","t":14.74,"v":805},{"p":"c","s":"G","t":14.8,"v":856},{"p":"c","s":"G","t":14.68,"v":551},{"p":"c","s":"G","t":14.41,"v":449},{"p":"c","s":"G","t":14.68,"v":449},{"p":"c","s":"G","t":15.1,"v":458},{"p":"c","s":"G","t":15.25,"v":390},{"p":"c","s":"G","t":15.34,"v":373},{"p":"c","s":"G","t":15.46,"v":331},{"p":"c","s":"G","t":15.52,"v":339},{"p":"c","s":"G","t":15.58,"v":703},{"p":"c","s":"G","t":15.64,"v":720},{"p":"c","s":"G","t":15.7,"v":695},{"p":"c","s":"G","t":15.55,"v":610},{"p":"c","s":"G","t":15.55,"v":559},{"p":"c","s":"G","t":15.61,"v":517},{"p":"c","s":"G","t":15.64,"v":458},{"p":"c","s":"G","t":15.83,"v":534},{"p":"c","s":"G","t":15.89,"v":492},{"p":"c","s":"G","t":15.98,"v":653},{"p":"c","s":"G","t":16.01,"v":475},{"p":"c","s":"G","t":16.04,"v":424},{"p":"c","s":"G","t":16.07,"v":364},{"p":"c","s":"G","t":15.86,"v":373},{"p":"c","s":"G","t":15.86,"v":322},{"p":"c","s":"G","t":16.01,"v":390},{"p":"c","s":"G","t":16.22,"v":585},{"p":"c","s":"G","t":16.28,"v":517},{"p":"c","s":"G","t":16.31,"v":432},{"p":"c","s":"G","t":16.25,"v":220},{"p":"c","s":"G","t":16.49,"v":534},{"p":"c","s":"G","t":16.49,"v":407},{"p":"c","s":"G","t":16.52,"v":288},{"p":"c","s":"G","t":17.72,"v":220},{"p":"c","s":"G","t":17.75,"v":270},{"p":"c","s":"G","t":17.78,"v":305},{"p":"c","s":"G","t":17.81,"v":288},{"p":"c","s":"G","t":17.84,"v":254},{"p":"c","s":"G","t":17.87,"v":220},{"p":"c","s":"G","t":17.93,"v":160},{"p":"c","s":"G","t":17.99,"v":136},{"p":"c","s":"G","t":18.05,"v":127},{"p":"c","s":"G","t":18.17,"v":42},

{"p":"c","s":"d","t":5.19,"v":0},{"p":"c","s":"d","t":5.73,"v":25},{"p":"c","s":"d","t":6.69,"v":47},{"p":"c","s":"d","t":7.3,"v":59},{"p":"c","s":"d","t":7.9,"v":64},{"p":"c","s":"d","t":8.14,"v":85},{"p":"c","s":"d","t":8.23,"v":139},{"p":"c","s":"d","t":8.35,"v":76},{"p":"c","s":"d","t":8.62,"v":76},{"p":"c","s":"d","t":8.8,"v":102},{"p":"c","s":"d","t":8.87,"v":144},{"p":"c","s":"d","t":8.98,"v":85},{"p":"c","s":"d","t":9.16,"v":71},{"p":"c","s":"d","t":9.83,"v":85},{"p":"c","s":"d","t":9.95,"v":161},{"p":"c","s":"d","t":10.19,"v":229},{"p":"c","s":"d","t":10.37,"v":322},{"p":"c","s":"d","t":10.49,"v":339},{"p":"c","s":"d","t":10.61,"v":356},{"p":"c","s":"d","t":10.7,"v":373},{"p":"c","s":"d","t":10.85,"v":305},{"p":"c","s":"d","t":11.03,"v":246},{"p":"c","s":"d","t":11.15,"v":212},{"p":"c","s":"d","t":11.3,"v":314},{"p":"c","s":"d","t":11.42,"v":237},{"p":"c","s":"d","t":11.57,"v":254},{"p":"c","s":"d","t":11.69,"v":280},{"p":"c","s":"d","t":11.75,"v":305},{"p":"c","s":"d","t":11.87,"v":288},{"p":"c","s":"d","t":12.02,"v":229},{"p":"c","s":"d","t":12.21,"v":144},{"p":"c","s":"d","t":12.33,"v":254},{"p":"c","s":"d","t":12.51,"v":195},{"p":"c","s":"d","t":12.81,"v":178},{"p":"c","s":"d","t":12.99,"v":220},{"p":"c","s":"d","t":13.11,"v":322},{"p":"c","s":"d","t":13.3,"v":271},{"p":"c","s":"d","t":13.48,"v":271},{"p":"c","s":"d","t":13.66,"v":288},{"p":"c","s":"d","t":13.84,"v":203},{"p":"c","s":"d","t":14.02,"v":271},{"p":"c","s":"d","t":14.2,"v":220},{"p":"c","s":"d","t":14.44,"v":237},{"p":"c","s":"d","t":14.68,"v":229},{"p":"c","s":"d","t":14.92,"v":237},{"p":"c","s":"d","t":15.1,"v":169},{"p":"c","s":"d","t":15.34,"v":203},{"p":"c","s":"d","t":15.64,"v":195},{"p":"c","s":"d","t":15.89,"v":178},{"p":"c","s":"d","t":16.13,"v":178},{"p":"c","s":"d","t":16.25,"v":220},{"p":"c","s":"d","t":16.49,"v":136},{"p":"c","s":"d","t":16.73,"v":136},{"p":"c","s":"d","t":17.03,"v":93},{"p":"c","s":"d","t":17.33,"v":68},{"p":"c","s":"d","t":17.57,"v":68},{"p":"c","s":"d","t":17.69,"v":102},{"p":"c","s":"d","t":17.78,"v":195},{"p":"c","s":"d","t":17.87,"v":102},{"p":"c","s":"d","t":17.93,"v":51},{"p":"c","s":"d","t":18.23,"v":34},{"p":"c","s":"d","t":18.54,"v":20},{"p":"c","s":"d","t":18.99,"v":0},

{"p":"c","s":"f1","t":5.19,"v":0},{"p":"c","s":"f1","t":5.7,"v":20},{"p":"c","s":"f1","t":6.2,"v":35},{"p":"c","s":"f1","t":6.66,"v":45},
{"p":"c","s":"f2","t":6.69,"v":237},{"p":"c","s":"f2","t":7.0,"v":300},{"p":"c","s":"f2","t":7.27,"v":364},
{"p":"c","s":"f3","t":7.33,"v":52},{"p":"c","s":"f3","t":7.9,"v":55},
{"p":"c","s":"f4","t":7.95,"v":492},{"p":"c","s":"f4","t":8.14,"v":585},{"p":"c","s":"f4","t":8.23,"v":610},{"p":"c","s":"f4","t":8.38,"v":585},{"p":"c","s":"f4","t":8.53,"v":602},
{"p":"c","s":"f5","t":8.56,"v":110},{"p":"c","s":"f5","t":8.62,"v":68},{"p":"c","s":"f5","t":8.74,"v":64},{"p":"c","s":"f5","t":8.83,"v":85},{"p":"c","s":"f5","t":8.89,"v":119},{"p":"c","s":"f5","t":8.95,"v":80},{"p":"c","s":"f5","t":9.04,"v":59},{"p":"c","s":"f5","t":9.16,"v":59},
{"p":"c","s":"f6","t":9.21,"v":737},{"p":"c","s":"f6","t":9.46,"v":780},{"p":"c","s":"f6","t":9.77,"v":831},
{"p":"c","s":"f7","t":9.83,"v":102},{"p":"c","s":"f7","t":9.95,"v":127},{"p":"c","s":"f7","t":10.13,"v":178},{"p":"c","s":"f7","t":10.31,"v":246},{"p":"c","s":"f7","t":10.37,"v":271},
{"p":"c","s":"f8","t":11.09,"v":220},{"p":"c","s":"f8","t":11.15,"v":178},{"p":"c","s":"f8","t":11.21,"v":220},{"p":"c","s":"f8","t":11.27,"v":254},{"p":"c","s":"f8","t":11.33,"v":203},{"p":"c","s":"f8","t":11.42,"v":186},{"p":"c","s":"f8","t":11.51,"v":220},{"p":"c","s":"f8","t":11.63,"v":195},
{"p":"c","s":"f9","t":12.36,"v":203},{"p":"c","s":"f9","t":12.45,"v":178},{"p":"c","s":"f9","t":12.57,"v":136},{"p":"c","s":"f9","t":12.69,"v":153},{"p":"c","s":"f9","t":12.81,"v":169},{"p":"c","s":"f9","t":12.93,"v":178},{"p":"c","s":"f9","t":12.98,"v":220},
{"p":"c","s":"f10","t":13.36,"v":288},{"p":"c","s":"f10","t":13.45,"v":254},{"p":"c","s":"f10","t":13.54,"v":220},{"p":"c","s":"f10","t":13.63,"v":271},{"p":"c","s":"f10","t":13.72,"v":254},{"p":"c","s":"f10","t":13.84,"v":178},{"p":"c","s":"f10","t":13.96,"v":186},{"p":"c","s":"f10","t":14.02,"v":254},{"p":"c","s":"f10","t":14.11,"v":220},{"p":"c","s":"f10","t":14.2,"v":203},
{"p":"c","s":"f11","t":14.44,"v":195},{"p":"c","s":"f11","t":14.56,"v":153},{"p":"c","s":"f11","t":14.68,"v":203},{"p":"c","s":"f11","t":14.8,"v":190},{"p":"c","s":"f11","t":14.89,"v":186},{"p":"c","s":"f11","t":14.98,"v":161},{"p":"c","s":"f11","t":15.1,"v":136},{"p":"c","s":"f11","t":15.22,"v":127},{"p":"c","s":"f11","t":15.34,"v":169},{"p":"c","s":"f11","t":15.46,"v":153},
{"p":"c","s":"f12","t":16.01,"v":153},{"p":"c","s":"f12","t":16.13,"v":119},{"p":"c","s":"f12","t":16.22,"v":186},{"p":"c","s":"f12","t":16.31,"v":119},{"p":"c","s":"f12","t":16.49,"v":110},{"p":"c","s":"f12","t":16.67,"v":127},{"p":"c","s":"f12","t":16.85,"v":102},{"p":"c","s":"f12","t":17.03,"v":76},{"p":"c","s":"f12","t":17.33,"v":51},{"p":"c","s":"f12","t":17.57,"v":59},{"p":"c","s":"f12","t":17.69,"v":102},{"p":"c","s":"f12","t":17.78,"v":178},{"p":"c","s":"f12","t":17.84,"v":102},{"p":"c","s":"f12","t":17.93,"v":42},{"p":"c","s":"f12","t":18.23,"v":31},{"p":"c","s":"f12","t":18.54,"v":17},{"p":"c","s":"f12","t":18.96,"v":0},

{"p":"c","s":"F","t":6.665,"v":102},{"p":"c","s":"F","t":6.67,"v":183},
{"p":"c","s":"F","t":7.295,"v":322},{"p":"c","s":"F","t":7.3,"v":220},{"p":"c","s":"F","t":7.305,"v":98},
{"p":"c","s":"F","t":7.915,"v":139},{"p":"c","s":"F","t":7.92,"v":285},{"p":"c","s":"F","t":7.925,"v":432},
{"p":"c","s":"F","t":8.54,"v":551},{"p":"c","s":"F","t":8.545,"v":415},{"p":"c","s":"F","t":8.55,"v":234},
{"p":"c","s":"F","t":9.155,"v":195},{"p":"c","s":"F","t":9.16,"v":373},{"p":"c","s":"F","t":9.165,"v":559},{"p":"c","s":"F","t":9.17,"v":695},
{"p":"c","s":"F","t":9.78,"v":729},{"p":"c","s":"F","t":9.785,"v":576},{"p":"c","s":"F","t":9.79,"v":393},{"p":"c","s":"F","t":9.795,"v":224},
{"p":"c","s":"F","t":10.4,"v":322},{"p":"c","s":"F","t":10.42,"v":441},{"p":"c","s":"F","t":10.43,"v":517},{"p":"c","s":"F","t":10.43,"v":624},{"p":"c","s":"F","t":10.45,"v":686},{"p":"c","s":"F","t":10.46,"v":1025},{"p":"c","s":"F","t":10.55,"v":1127},{"p":"c","s":"F","t":10.57,"v":1081},{"p":"c","s":"F","t":10.61,"v":1042},{"p":"c","s":"F","t":10.61,"v":941},{"p":"c","s":"F","t":10.55,"v":890},{"p":"c","s":"F","t":10.64,"v":754},{"p":"c","s":"F","t":10.72,"v":1186},{"p":"c","s":"F","t":10.7,"v":1085},{"p":"c","s":"F","t":10.76,"v":1119},{"p":"c","s":"F","t":10.79,"v":1034},{"p":"c","s":"F","t":10.82,"v":1102},{"p":"c","s":"F","t":10.85,"v":1076},{"p":"c","s":"F","t":10.91,"v":1093},{"p":"c","s":"F","t":11.0,"v":992},{"p":"c","s":"F","t":10.79,"v":890},{"p":"c","s":"F","t":11.03,"v":844},{"p":"c","s":"F","t":11.06,"v":661},{"p":"c","s":"F","t":11.08,"v":458},{"p":"c","s":"F","t":11.09,"v":278},{"p":"c","s":"F","t":10.52,"v":644},{"p":"c","s":"F","t":10.7,"v":610},{"p":"c","s":"F","t":10.73,"v":576},{"p":"c","s":"F","t":11.69,"v":619},{"p":"c","s":"F","t":11.72,"v":746},{"p":"c","s":"F","t":11.69,"v":483},{"p":"c","s":"F","t":11.75,"v":1136},{"p":"c","s":"F","t":11.81,"v":1161},{"p":"c","s":"F","t":11.93,"v":1110},{"p":"c","s":"F","t":12.02,"v":1042},{"p":"c","s":"F","t":11.81,"v":958},{"p":"c","s":"F","t":11.87,"v":407},{"p":"c","s":"F","t":11.96,"v":339},{"p":"c","s":"F","t":12.02,"v":271},
{"p":"c","s":"F","t":11.91,"v":1169},{"p":"c","s":"F","t":12.0,"v":1153},{"p":"c","s":"F","t":12.03,"v":1102},{"p":"c","s":"F","t":12.12,"v":1085},{"p":"c","s":"F","t":12.21,"v":1034},{"p":"c","s":"F","t":12.27,"v":1025},{"p":"c","s":"F","t":12.3,"v":1025},{"p":"c","s":"F","t":12.33,"v":907},{"p":"c","s":"F","t":12.15,"v":839},{"p":"c","s":"F","t":12.33,"v":661},{"p":"c","s":"F","t":13.05,"v":1076},{"p":"c","s":"F","t":13.11,"v":1051},{"p":"c","s":"F","t":13.17,"v":1076},{"p":"c","s":"F","t":13.02,"v":1000},{"p":"c","s":"F","t":13.08,"v":966},{"p":"c","s":"F","t":13.02,"v":890},{"p":"c","s":"F","t":13.2,"v":898},{"p":"c","s":"F","t":13.36,"v":907},{"p":"c","s":"F","t":13.3,"v":1008},{"p":"c","s":"F","t":13.33,"v":1085},{"p":"c","s":"F","t":13.49,"v":1102},{"p":"c","s":"F","t":13.48,"v":1034},{"p":"c","s":"F","t":12.99,"v":720},{"p":"c","s":"F","t":13.3,"v":661},{"p":"c","s":"F","t":13.17,"v":602},{"p":"c","s":"F","t":13.45,"v":610},{"p":"c","s":"F","t":12.98,"v":542},{"p":"c","s":"F","t":13.17,"v":500},{"p":"c","s":"F","t":13.39,"v":441},{"p":"c","s":"F","t":13.54,"v":441},{"p":"c","s":"F","t":12.96,"v":376},{"p":"c","s":"F","t":13.2,"v":376},{"p":"c","s":"F","t":14.29,"v":839},{"p":"c","s":"F","t":14.32,"v":695},{"p":"c","s":"F","t":14.35,"v":669},{"p":"c","s":"F","t":14.38,"v":958},{"p":"c","s":"F","t":14.47,"v":839},{"p":"c","s":"F","t":14.5,"v":932},{"p":"c","s":"F","t":14.62,"v":839},{"p":"c","s":"F","t":14.65,"v":898},{"p":"c","s":"F","t":14.74,"v":915},{"p":"c","s":"F","t":14.8,"v":915},{"p":"c","s":"F","t":14.86,"v":881},{"p":"c","s":"F","t":14.74,"v":763},{"p":"c","s":"F","t":14.86,"v":788},{"p":"c","s":"F","t":14.71,"v":525},{"p":"c","s":"F","t":14.71,"v":500},{"p":"c","s":"F","t":14.68,"v":424},{"p":"c","s":"F","t":14.89,"v":559},{"p":"c","s":"F","t":14.26,"v":458},{"p":"c","s":"F","t":14.38,"v":424},{"p":"c","s":"F","t":14.44,"v":356},{"p":"c","s":"F","t":14.5,"v":347},{"p":"c","s":"F","t":14.41,"v":331},{"p":"c","s":"F","t":14.23,"v":314},{"p":"c","s":"F","t":15.52,"v":271},{"p":"c","s":"F","t":15.61,"v":661},{"p":"c","s":"F","t":15.64,"v":644},{"p":"c","s":"F","t":15.67,"v":678},{"p":"c","s":"F","t":15.61,"v":610},{"p":"c","s":"F","t":15.7,"v":593},{"p":"c","s":"F","t":15.76,"v":551},{"p":"c","s":"F","t":15.83,"v":500},{"p":"c","s":"F","t":15.89,"v":475},{"p":"c","s":"F","t":15.95,"v":441},{"p":"c","s":"F","t":15.92,"v":339},{"p":"c","s":"F","t":15.89,"v":288},{"p":"c","s":"F","t":15.92,"v":254},{"p":"c","s":"F","t":15.98,"v":602},{"p":"c","s":"F","t":15.95,"v":551},{"p":"c","s":"F","t":16.01,"v":263},{"p":"c","s":"F","t":12.03,"v":373},{"p":"c","s":"F","t":12.15,"v":280},{"p":"c","s":"F","t":13.66,"v":331},{"p":"c","s":"F","t":13.51,"v":729},

{"p":"d","s":"g","t":7.96,"v":530},{"p":"d","s":"g","t":8.2,"v":575},{"p":"d","s":"g","t":8.38,"v":640},{"p":"d","s":"g","t":8.45,"v":695},{"p":"d","s":"g","t":8.54,"v":638},{"p":"d","s":"g","t":8.99,"v":713},{"p":"d","s":"g","t":9.29,"v":763},{"p":"d","s":"g","t":9.71,"v":847},{"p":"d","s":"g","t":9.89,"v":872},{"p":"d","s":"g","t":10.19,"v":913},{"p":"d","s":"g","t":10.43,"v":938},{"p":"d","s":"g","t":10.61,"v":980},{"p":"d","s":"g","t":10.7,"v":1047},

{"p":"d","s":"G","t":6.07,"v":113},{"p":"d","s":"G","t":6.1,"v":163},{"p":"d","s":"G","t":6.13,"v":188},{"p":"d","s":"G","t":6.16,"v":205},{"p":"d","s":"G","t":6.19,"v":213},{"p":"d","s":"G","t":6.22,"v":217},{"p":"d","s":"G","t":6.25,"v":163},{"p":"d","s":"G","t":6.28,"v":147},{"p":"d","s":"G","t":6.31,"v":105},{"p":"d","s":"G","t":6.52,"v":130},{"p":"d","s":"G","t":6.64,"v":163},{"p":"d","s":"G","t":6.65,"v":222},{"p":"d","s":"G","t":6.67,"v":330},{"p":"d","s":"G","t":6.73,"v":372},{"p":"d","s":"G","t":6.79,"v":388},{"p":"d","s":"G","t":6.82,"v":288},{"p":"d","s":"G","t":6.88,"v":280},{"p":"d","s":"G","t":6.91,"v":238},{"p":"d","s":"G","t":7.12,"v":280},{"p":"d","s":"G","t":7.15,"v":338},{"p":"d","s":"G","t":7.16,"v":380},{"p":"d","s":"G","t":7.18,"v":422},{"p":"d","s":"G","t":7.17,"v":497},{"p":"d","s":"G","t":7.42,"v":205},{"p":"d","s":"G","t":7.45,"v":297},{"p":"d","s":"G","t":7.48,"v":338},{"p":"d","s":"G","t":7.51,"v":397},{"p":"d","s":"G","t":7.54,"v":438},{"p":"d","s":"G","t":7.57,"v":447},{"p":"d","s":"G","t":7.6,"v":438},{"p":"d","s":"G","t":7.48,"v":547},{"p":"d","s":"G","t":7.57,"v":297},{"p":"d","s":"G","t":7.66,"v":263},{"p":"d","s":"G","t":7.63,"v":213},{"p":"d","s":"G","t":7.72,"v":430},{"p":"d","s":"G","t":7.75,"v":288},{"p":"d","s":"G","t":7.69,"v":513},{"p":"d","s":"G","t":7.78,"v":480},{"p":"d","s":"G","t":7.84,"v":530},{"p":"d","s":"G","t":7.9,"v":538},{"p":"d","s":"G","t":7.48,"v":155},{"p":"d","s":"G","t":7.66,"v":163},{"p":"d","s":"G","t":9.78,"v":840},{"p":"d","s":"G","t":9.8,"v":800},{"p":"d","s":"G","t":9.74,"v":650},
{"p":"d","s":"G","t":10.73,"v":1022},{"p":"d","s":"G","t":10.8,"v":813},{"p":"d","s":"G","t":10.86,"v":847},{"p":"d","s":"G","t":10.89,"v":663},{"p":"d","s":"G","t":10.92,"v":647},{"p":"d","s":"G","t":10.95,"v":630},{"p":"d","s":"G","t":10.98,"v":613},{"p":"d","s":"G","t":11.01,"v":705},{"p":"d","s":"G","t":11.04,"v":772},{"p":"d","s":"G","t":11.07,"v":880},{"p":"d","s":"G","t":11.08,"v":930},{"p":"d","s":"G","t":10.86,"v":605},{"p":"d","s":"G","t":10.8,"v":530},{"p":"d","s":"G","t":10.83,"v":513},{"p":"d","s":"G","t":10.84,"v":422},{"p":"d","s":"G","t":11.1,"v":1138},{"p":"d","s":"G","t":11.16,"v":1113},{"p":"d","s":"G","t":11.22,"v":1097},{"p":"d","s":"G","t":11.28,"v":1080},{"p":"d","s":"G","t":11.34,"v":1063},{"p":"d","s":"G","t":11.4,"v":1047},{"p":"d","s":"G","t":11.43,"v":1138},{"p":"d","s":"G","t":11.46,"v":1038},{"p":"d","s":"G","t":11.49,"v":1055},{"p":"d","s":"G","t":11.85,"v":1180},{"p":"d","s":"G","t":11.88,"v":1180},{"p":"d","s":"G","t":11.94,"v":1180},{"p":"d","s":"G","t":11.97,"v":580},{"p":"d","s":"G","t":11.49,"v":488},{"p":"d","s":"G","t":11.52,"v":347},{"p":"d","s":"G","t":11.46,"v":297},{"p":"d","s":"G","t":11.64,"v":438},{"p":"d","s":"G","t":11.7,"v":463},{"p":"d","s":"G","t":11.76,"v":480},{"p":"d","s":"G","t":11.82,"v":455},{"p":"d","s":"G","t":11.91,"v":463},
{"p":"d","s":"G","t":11.91,"v":1030},{"p":"d","s":"G","t":12.09,"v":780},{"p":"d","s":"G","t":12.0,"v":580},{"p":"d","s":"G","t":12.06,"v":355},{"p":"d","s":"G","t":12.27,"v":1138},{"p":"d","s":"G","t":12.3,"v":1005},{"p":"d","s":"G","t":12.39,"v":1247},{"p":"d","s":"G","t":12.42,"v":1238},{"p":"d","s":"G","t":12.45,"v":1155},{"p":"d","s":"G","t":12.45,"v":1088},{"p":"d","s":"G","t":12.36,"v":905},{"p":"d","s":"G","t":12.48,"v":888},{"p":"d","s":"G","t":12.54,"v":747},{"p":"d","s":"G","t":12.6,"v":755},{"p":"d","s":"G","t":12.48,"v":655},{"p":"d","s":"G","t":12.54,"v":630},{"p":"d","s":"G","t":12.63,"v":622},{"p":"d","s":"G","t":12.57,"v":697},{"p":"d","s":"G","t":12.78,"v":730},{"p":"d","s":"G","t":12.84,"v":772},{"p":"d","s":"G","t":12.84,"v":688},{"p":"d","s":"G","t":12.87,"v":680},{"p":"d","s":"G","t":12.9,"v":1313},{"p":"d","s":"G","t":13.02,"v":1280},{"p":"d","s":"G","t":12.95,"v":1097},{"p":"d","s":"G","t":13.02,"v":1047},{"p":"d","s":"G","t":12.99,"v":880},{"p":"d","s":"G","t":12.99,"v":713},{"p":"d","s":"G","t":13.05,"v":763},{"p":"d","s":"G","t":14.14,"v":1113},{"p":"d","s":"G","t":14.17,"v":1105},{"p":"d","s":"G","t":14.2,"v":1113},{"p":"d","s":"G","t":14.23,"v":1105},{"p":"d","s":"G","t":14.11,"v":805},{"p":"d","s":"G","t":14.17,"v":972},{"p":"d","s":"G","t":14.29,"v":663},{"p":"d","s":"G","t":14.29,"v":588},{"p":"d","s":"G","t":14.08,"v":580},{"p":"d","s":"G","t":14.23,"v":447},{"p":"d","s":"G","t":14.59,"v":1113},{"p":"d","s":"G","t":14.56,"v":947},{"p":"d","s":"G","t":14.68,"v":938},{"p":"d","s":"G","t":14.8,"v":897},{"p":"d","s":"G","t":14.83,"v":855},{"p":"d","s":"G","t":14.92,"v":797},{"p":"d","s":"G","t":14.92,"v":997},{"p":"d","s":"G","t":14.95,"v":972},{"p":"d","s":"G","t":14.98,"v":913},{"p":"d","s":"G","t":15.04,"v":880},{"p":"d","s":"G","t":15.1,"v":830},{"p":"d","s":"G","t":15.16,"v":788},{"p":"d","s":"G","t":15.19,"v":772},{"p":"d","s":"G","t":14.56,"v":613},{"p":"d","s":"G","t":14.65,"v":613},{"p":"d","s":"G","t":14.77,"v":613},{"p":"d","s":"G","t":14.68,"v":530},{"p":"d","s":"G","t":14.8,"v":538},{"p":"d","s":"G","t":14.74,"v":463},{"p":"d","s":"G","t":15.21,"v":455},{"p":"d","s":"G","t":15.34,"v":538},{"p":"d","s":"G","t":15.37,"v":647},{"p":"d","s":"G","t":15.4,"v":430},{"p":"d","s":"G","t":15.46,"v":447},{"p":"d","s":"G","t":15.49,"v":397},{"p":"d","s":"G","t":15.52,"v":447},{"p":"d","s":"G","t":15.55,"v":597},{"p":"d","s":"G","t":15.58,"v":672},{"p":"d","s":"G","t":15.64,"v":713},{"p":"d","s":"G","t":15.73,"v":730},{"p":"d","s":"G","t":15.89,"v":780},{"p":"d","s":"G","t":15.89,"v":463},{"p":"d","s":"G","t":15.25,"v":347},{"p":"d","s":"G","t":15.46,"v":355},{"p":"d","s":"G","t":15.34,"v":288},{"p":"d","s":"G","t":15.67,"v":305},{"p":"d","s":"G","t":15.25,"v":213},{"p":"d","s":"G","t":15.52,"v":213},{"p":"d","s":"G","t":15.4,"v":205},{"p":"d","s":"G","t":15.83,"v":297},{"p":"d","s":"G","t":15.92,"v":280},

{"p":"d","s":"d","t":4.95,"v":0},{"p":"d","s":"d","t":5.37,"v":22},{"p":"d","s":"d","t":5.86,"v":67},{"p":"d","s":"d","t":6.16,"v":63},{"p":"d","s":"d","t":6.52,"v":113},{"p":"d","s":"d","t":6.7,"v":122},{"p":"d","s":"d","t":6.88,"v":188},{"p":"d","s":"d","t":7.0,"v":230},{"p":"d","s":"d","t":7.18,"v":213},{"p":"d","s":"d","t":7.36,"v":163},{"p":"d","s":"d","t":7.6,"v":155},{"p":"d","s":"d","t":7.84,"v":72},{"p":"d","s":"d","t":7.96,"v":63},{"p":"d","s":"d","t":8.33,"v":72},{"p":"d","s":"d","t":8.43,"v":130},{"p":"d","s":"d","t":8.54,"v":72},{"p":"d","s":"d","t":9.29,"v":63},{"p":"d","s":"d","t":9.68,"v":88},{"p":"d","s":"d","t":9.74,"v":113},{"p":"d","s":"d","t":9.83,"v":80},{"p":"d","s":"d","t":10.37,"v":72},{"p":"d","s":"d","t":10.49,"v":88},{"p":"d","s":"d","t":10.67,"v":188},{"p":"d","s":"d","t":10.8,"v":230},{"p":"d","s":"d","t":10.92,"v":297},{"p":"d","s":"d","t":11.07,"v":313},{"p":"d","s":"d","t":11.16,"v":263},{"p":"d","s":"d","t":11.34,"v":180},{"p":"d","s":"d","t":11.46,"v":280},{"p":"d","s":"d","t":11.58,"v":297},{"p":"d","s":"d","t":11.7,"v":413},{"p":"d","s":"d","t":11.82,"v":380},{"p":"d","s":"d","t":11.94,"v":347},{"p":"d","s":"d","t":12.09,"v":297},{"p":"d","s":"d","t":12.24,"v":188},{"p":"d","s":"d","t":12.33,"v":363},{"p":"d","s":"d","t":12.45,"v":538},{"p":"d","s":"d","t":12.57,"v":530},{"p":"d","s":"d","t":12.69,"v":480},{"p":"d","s":"d","t":12.81,"v":513},{"p":"d","s":"d","t":12.96,"v":580},{"p":"d","s":"d","t":13.05,"v":572},{"p":"d","s":"d","t":13.11,"v":497},{"p":"d","s":"d","t":13.17,"v":397},{"p":"d","s":"d","t":13.3,"v":380},{"p":"d","s":"d","t":13.48,"v":297},{"p":"d","s":"d","t":13.66,"v":347},{"p":"d","s":"d","t":13.9,"v":213},{"p":"d","s":"d","t":14.08,"v":447},{"p":"d","s":"d","t":14.2,"v":380},{"p":"d","s":"d","t":14.38,"v":297},{"p":"d","s":"d","t":14.56,"v":447},{"p":"d","s":"d","t":14.71,"v":255},{"p":"d","s":"d","t":14.8,"v":380},{"p":"d","s":"d","t":14.98,"v":313},{"p":"d","s":"d","t":15.22,"v":180},{"p":"d","s":"d","t":15.52,"v":163},{"p":"d","s":"d","t":15.77,"v":180},{"p":"d","s":"d","t":15.89,"v":280},{"p":"d","s":"d","t":16.13,"v":213},{"p":"d","s":"d","t":16.31,"v":72},{"p":"d","s":"d","t":16.73,"v":47},{"p":"d","s":"d","t":17.33,"v":5},{"p":"d","s":"d","t":17.93,"v":0},{"p":"d","s":"d","t":18.84,"v":0},

{"p":"d","s":"f1","t":4.95,"v":0},{"p":"d","s":"f1","t":5.37,"v":17},{"p":"d","s":"f1","t":5.86,"v":60},{"p":"d","s":"f1","t":6.16,"v":60},{"p":"d","s":"f1","t":6.52,"v":100},{"p":"d","s":"f1","t":6.64,"v":80},
{"p":"d","s":"f2","t":6.82,"v":247},{"p":"d","s":"f2","t":6.88,"v":205},{"p":"d","s":"f2","t":6.97,"v":222},{"p":"d","s":"f2","t":7.06,"v":213},{"p":"d","s":"f2","t":7.14,"v":222},
{"p":"d","s":"f3","t":7.21,"v":180},{"p":"d","s":"f3","t":7.36,"v":138},{"p":"d","s":"f3","t":7.48,"v":130},{"p":"d","s":"f3","t":7.6,"v":113},{"p":"d","s":"f3","t":7.72,"v":80},{"p":"d","s":"f3","t":7.87,"v":55},
{"p":"d","s":"f4","t":7.98,"v":522},{"p":"d","s":"f4","t":8.08,"v":538},{"p":"d","s":"f4","t":8.2,"v":580},{"p":"d","s":"f4","t":8.33,"v":605},{"p":"d","s":"f4","t":8.42,"v":663},{"p":"d","s":"f4","t":8.45,"v":680},{"p":"d","s":"f4","t":8.51,"v":630},
{"p":"d","s":"f5","t":8.57,"v":55},{"p":"d","s":"f5","t":9.17,"v":55},
{"p":"d","s":"f6","t":9.23,"v":747},{"p":"d","s":"f6","t":9.47,"v":788},{"p":"d","s":"f6","t":9.74,"v":838},
{"p":"d","s":"f7","t":9.86,"v":80},{"p":"d","s":"f7","t":9.95,"v":63},{"p":"d","s":"f7","t":10.4,"v":63},
{"p":"d","s":"f8","t":10.49,"v":938},{"p":"d","s":"f8","t":10.61,"v":980},{"p":"d","s":"f8","t":10.67,"v":1038},{"p":"d","s":"f8","t":10.7,"v":1047},
{"p":"d","s":"f9","t":11.13,"v":222},{"p":"d","s":"f9","t":11.22,"v":197},{"p":"d","s":"f9","t":11.34,"v":163},{"p":"d","s":"f9","t":11.43,"v":222},{"p":"d","s":"f9","t":11.52,"v":247},{"p":"d","s":"f9","t":11.61,"v":280},{"p":"d","s":"f9","t":11.67,"v":347},{"p":"d","s":"f9","t":11.73,"v":380},{"p":"d","s":"f9","t":11.8,"v":397},{"p":"d","s":"f9","t":11.89,"v":322},{"p":"d","s":"f9","t":11.95,"v":313},{"p":"d","s":"f9","t":12.03,"v":255},
{"p":"d","s":"f10","t":12.36,"v":447},{"p":"d","s":"f10","t":12.42,"v":405},{"p":"d","s":"f10","t":12.45,"v":480},{"p":"d","s":"f10","t":12.51,"v":505},{"p":"d","s":"f10","t":12.63,"v":438},{"p":"d","s":"f10","t":12.75,"v":488},{"p":"d","s":"f10","t":12.87,"v":530},{"p":"d","s":"f10","t":12.96,"v":588},{"p":"d","s":"f10","t":13.05,"v":563},{"p":"d","s":"f10","t":13.11,"v":413},{"p":"d","s":"f10","t":13.17,"v":363},{"p":"d","s":"f10","t":13.23,"v":313},{"p":"d","s":"f10","t":13.33,"v":413},{"p":"d","s":"f10","t":13.42,"v":313},{"p":"d","s":"f10","t":13.54,"v":255},{"p":"d","s":"f10","t":13.66,"v":330},{"p":"d","s":"f10","t":13.78,"v":280},{"p":"d","s":"f10","t":13.9,"v":205},{"p":"d","s":"f10","t":14.02,"v":363},{"p":"d","s":"f10","t":14.14,"v":405},{"p":"d","s":"f10","t":14.23,"v":380},{"p":"d","s":"f10","t":14.32,"v":280},{"p":"d","s":"f10","t":14.38,"v":238},{"p":"d","s":"f10","t":14.5,"v":347},{"p":"d","s":"f10","t":14.59,"v":447},{"p":"d","s":"f10","t":14.68,"v":397},{"p":"d","s":"f10","t":14.77,"v":355},{"p":"d","s":"f10","t":14.86,"v":347},{"p":"d","s":"f10","t":14.92,"v":380},{"p":"d","s":"f10","t":14.98,"v":280},{"p":"d","s":"f10","t":15.1,"v":180},{"p":"d","s":"f10","t":15.22,"v":130},{"p":"d","s":"f10","t":15.4,"v":113},{"p":"d","s":"f10","t":15.52,"v":163},{"p":"d","s":"f10","t":15.64,"v":172},{"p":"d","s":"f10","t":15.77,"v":213},{"p":"d","s":"f10","t":15.86,"v":263},{"p":"d","s":"f10","t":15.95,"v":247},{"p":"d","s":"f10","t":16.13,"v":197},{"p":"d","s":"f10","t":16.28,"v":80},{"p":"d","s":"f10","t":16.61,"v":38},{"p":"d","s":"f10","t":17.03,"v":13},{"p":"d","s":"f10","t":17.27,"v":0},
{"p":"d","s":"f11","t":17.93,"v":0},{"p":"d","s":"f11","t":18.1,"v":8},{"p":"d","s":"f11","t":18.3,"v":22},{"p":"d","s":"f11","t":18.54,"v":10},{"p":"d","s":"f11","t":18.84,"v":3},

{"p":"d","s":"F","t":6.69,"v":113},{"p":"d","s":"F","t":6.7,"v":197},{"p":"d","s":"F","t":6.7,"v":280},{"p":"d","s":"F","t":6.73,"v":330},{"p":"d","s":"F","t":6.76,"v":363},{"p":"d","s":"F","t":6.79,"v":388},{"p":"d","s":"F","t":7.14,"v":297},{"p":"d","s":"F","t":7.16,"v":363},{"p":"d","s":"F","t":7.17,"v":463},{"p":"d","s":"F","t":7.18,"v":413},{"p":"d","s":"F","t":7.19,"v":390},
{"p":"d","s":"F","t":7.915,"v":105},{"p":"d","s":"F","t":7.92,"v":247},{"p":"d","s":"F","t":7.925,"v":422},
{"p":"d","s":"F","t":8.535,"v":613},{"p":"d","s":"F","t":8.54,"v":483},{"p":"d","s":"F","t":8.545,"v":293},{"p":"d","s":"F","t":8.55,"v":130},
{"p":"d","s":"F","t":9.175,"v":150},{"p":"d","s":"F","t":9.18,"v":317},{"p":"d","s":"F","t":9.185,"v":517},{"p":"d","s":"F","t":9.19,"v":677},
{"p":"d","s":"F","t":9.71,"v":730},{"p":"d","s":"F","t":9.74,"v":647},{"p":"d","s":"F","t":9.8,"v":635},{"p":"d","s":"F","t":9.76,"v":772},{"p":"d","s":"F","t":9.82,"v":447},{"p":"d","s":"F","t":9.83,"v":255},{"p":"d","s":"F","t":9.84,"v":130},
{"p":"d","s":"F","t":10.415,"v":105},{"p":"d","s":"F","t":10.42,"v":197},{"p":"d","s":"F","t":10.425,"v":372},{"p":"d","s":"F","t":10.43,"v":563},{"p":"d","s":"F","t":10.435,"v":747},{"p":"d","s":"F","t":10.44,"v":880},
{"p":"d","s":"F","t":10.73,"v":947},{"p":"d","s":"F","t":10.77,"v":913},{"p":"d","s":"F","t":10.8,"v":747},{"p":"d","s":"F","t":10.86,"v":772},{"p":"d","s":"F","t":10.8,"v":597},{"p":"d","s":"F","t":10.8,"v":563},{"p":"d","s":"F","t":10.83,"v":472},{"p":"d","s":"F","t":10.86,"v":430},{"p":"d","s":"F","t":10.84,"v":355},{"p":"d","s":"F","t":10.92,"v":688},{"p":"d","s":"F","t":10.95,"v":597},{"p":"d","s":"F","t":10.98,"v":580},{"p":"d","s":"F","t":11.01,"v":555},{"p":"d","s":"F","t":10.98,"v":505},{"p":"d","s":"F","t":11.04,"v":480},{"p":"d","s":"F","t":11.07,"v":480},{"p":"d","s":"F","t":11.01,"v":405},{"p":"d","s":"F","t":11.07,"v":397},{"p":"d","s":"F","t":11.1,"v":388},{"p":"d","s":"F","t":11.1,"v":300},
{"p":"d","s":"F","t":11.85,"v":1130},{"p":"d","s":"F","t":11.87,"v":1147},{"p":"d","s":"F","t":11.91,"v":1172},{"p":"d","s":"F","t":11.94,"v":1030},{"p":"d","s":"F","t":12.0,"v":480},{"p":"d","s":"F","t":11.97,"v":405},{"p":"d","s":"F","t":12.0,"v":313},{"p":"d","s":"F","t":12.09,"v":1163},{"p":"d","s":"F","t":12.15,"v":1138},{"p":"d","s":"F","t":12.21,"v":1105},{"p":"d","s":"F","t":12.27,"v":1088},{"p":"d","s":"F","t":12.3,"v":1072},{"p":"d","s":"F","t":12.33,"v":855},{"p":"d","s":"F","t":12.33,"v":713},{"p":"d","s":"F","t":12.09,"v":713},{"p":"d","s":"F","t":12.36,"v":530},{"p":"d","s":"F","t":12.2,"v":300},{"p":"d","s":"F","t":12.28,"v":350},
{"p":"d","s":"F","t":13.02,"v":1163},{"p":"d","s":"F","t":13.02,"v":988},{"p":"d","s":"F","t":13.05,"v":697},
{"p":"d","s":"F","t":14.29,"v":497},{"p":"d","s":"F","t":14.27,"v":530},{"p":"d","s":"F","t":14.56,"v":563},{"p":"d","s":"F","t":14.62,"v":563},{"p":"d","s":"F","t":14.65,"v":897},{"p":"d","s":"F","t":14.59,"v":855},{"p":"d","s":"F","t":14.59,"v":1055},{"p":"d","s":"F","t":14.8,"v":822},{"p":"d","s":"F","t":14.8,"v":563},{"p":"d","s":"F","t":14.83,"v":805},{"p":"d","s":"F","t":14.89,"v":497},{"p":"d","s":"F","t":14.91,"v":447},
{"p":"d","s":"F","t":15.43,"v":122},{"p":"d","s":"F","t":15.52,"v":255},{"p":"d","s":"F","t":15.55,"v":250},{"p":"d","s":"F","t":15.58,"v":663},{"p":"d","s":"F","t":15.61,"v":613},{"p":"d","s":"F","t":15.64,"v":563},{"p":"d","s":"F","t":15.67,"v":497},{"p":"d","s":"F","t":15.7,"v":680},{"p":"d","s":"F","t":15.86,"v":422},{"p":"d","s":"F","t":15.89,"v":730}
]},
"facet":{"row":{"field":"p","type":"nominal","header":null,"title":null}},
"spacing":23,
"resolve":{"axis":{"x":"independent","y":"independent"}},
"spec":{
 "width":881,"height":276,
 "encoding":{
  "x":{"field":"t","type":"quantitative","scale":{"domain":[4,20],"nice":false,"zero":false},"axis":{"values":[4,6,8,10,12,14,16,18,20],"labelExpr":"(datum.value < 10 ? '0' : '') + datum.value + ':00'","title":null,"tickSize":7,"labelPadding":16}},
  "y":{"field":"v","type":"quantitative","scale":{"domain":[0,1400],"nice":false},"axis":{"values":[0,200,400,600,800,1000,1200,1400],"format":"d","title":"Irradiance [W/m²]","tickSize":7,"labelPadding":14,"titlePadding":12,"titleFontSize":24,"titleY":157}}
 },
 "layer":[
  {"transform":[{"filter":"test(/^g/, datum.s)"}],"mark":{"type":"line","color":"#558ED5","strokeWidth":5,"strokeCap":"round","strokeJoin":"round"},"encoding":{"detail":{"field":"s"}}},
  {"transform":[{"filter":"datum.s === 'G'"}],"mark":{"type":"circle","color":"#558ED5","size":28,"opacity":1}},
  {"transform":[{"filter":"datum.s === 'd'"}],"mark":{"type":"line","color":"#92D050","strokeWidth":4.5,"strokeCap":"round","strokeJoin":"round"},"encoding":{"detail":{"field":"s"}}},
  {"transform":[{"filter":"test(/^f/, datum.s)"}],"mark":{"type":"line","color":"#000","strokeWidth":7,"strokeCap":"round","strokeJoin":"round"},"encoding":{"detail":{"field":"s"}}},
  {"transform":[{"filter":"datum.s === 'F'"}],"mark":{"type":"circle","color":"#000","size":42,"opacity":1}},

  {"transform":[{"filter":"datum.s === 'T'"}],"mark":{"type":"circle","color":"#558ED5","size":28,"opacity":1},"encoding":{"x":{"datum":4.6,"type":"quantitative"},"y":{"datum":1296,"type":"quantitative"}}},
  {"transform":[{"filter":"datum.s === 'T'"}],"mark":{"type":"circle","color":"#92D050","size":28,"opacity":1},"encoding":{"x":{"datum":4.6,"type":"quantitative"},"y":{"datum":1135,"type":"quantitative"}}},
  {"transform":[{"filter":"datum.s === 'T'"}],"mark":{"type":"circle","color":"#000","size":45,"opacity":1},"encoding":{"x":{"datum":4.6,"type":"quantitative"},"y":{"datum":975,"type":"quantitative"}}},
  {"transform":[{"filter":"datum.s === 'T'"}],"mark":{"type":"text","text":"E","font":"Lato","fontStyle":"italic","fontSize":21,"align":"left","baseline":"alphabetic","dx":14,"dy":8,"color":"#000"},"encoding":{"x":{"datum":4.6,"type":"quantitative"},"y":{"datum":1296,"type":"quantitative"}}},
  {"transform":[{"filter":"datum.s === 'T'"}],"mark":{"type":"text","text":"E","font":"Lato","fontStyle":"italic","fontSize":21,"align":"left","baseline":"alphabetic","dx":14,"dy":8,"color":"#000"},"encoding":{"x":{"datum":4.6,"type":"quantitative"},"y":{"datum":1135,"type":"quantitative"}}},
  {"transform":[{"filter":"datum.s === 'T'"}],"mark":{"type":"text","text":"E","font":"Lato","fontStyle":"italic","fontSize":21,"align":"left","baseline":"alphabetic","dx":14,"dy":8,"color":"#000"},"encoding":{"x":{"datum":4.6,"type":"quantitative"},"y":{"datum":975,"type":"quantitative"}}},
  {"transform":[{"filter":"datum.s === 'T'"}],"mark":{"type":"text","text":"g","font":"Lato","fontStyle":"italic","fontSize":15,"align":"left","baseline":"alphabetic","dx":28,"dy":11,"color":"#000"},"encoding":{"x":{"datum":4.6,"type":"quantitative"},"y":{"datum":1296,"type":"quantitative"}}},
  {"transform":[{"filter":"datum.s === 'T'"}],"mark":{"type":"text","text":"d","font":"Lato","fontStyle":"italic","fontSize":15,"align":"left","baseline":"alphabetic","dx":28,"dy":11,"color":"#000"},"encoding":{"x":{"datum":4.6,"type":"quantitative"},"y":{"datum":1135,"type":"quantitative"}}},
  {"transform":[{"filter":"datum.s === 'T'"}],"mark":{"type":"text","text":"f","font":"Lato","fontStyle":"italic","fontSize":15,"align":"left","baseline":"alphabetic","dx":28,"dy":11,"color":"#000"},"encoding":{"x":{"datum":4.6,"type":"quantitative"},"y":{"datum":975,"type":"quantitative"}}},

  {"transform":[{"filter":"datum.s === 'T'"}],"mark":{"type":"text","font":"Liberation Sans","fontWeight":"bold","fontSize":23,"align":"left","baseline":"alphabetic","color":"#000"},"encoding":{"text":{"field":"lab"}}},
  {"transform":[{"filter":"datum.s === 'T'"}],"mark":{"type":"text","font":"Liberation Sans","fontWeight":"bold","fontSize":23,"align":"left","baseline":"alphabetic","dx":48,"color":"#000"},"encoding":{"text":{"field":"dt"}}},
  {"transform":[{"filter":"datum.s === 'T'"}],"mark":{"type":"text","text":"K","font":"Liberation Sans","fontWeight":"bold","fontStyle":"italic","fontSize":23,"align":"left","baseline":"alphabetic","dx":48,"dy":35,"color":"#000"}},
  {"transform":[{"filter":"datum.s === 'T'"}],"mark":{"type":"text","text":"T_day","font":"Liberation Sans","fontWeight":"bold","fontStyle":"italic","fontSize":15,"align":"left","baseline":"alphabetic","dx":64,"dy":37,"color":"#000"}},
  {"transform":[{"filter":"datum.s === 'T'"}],"mark":{"type":"text","font":"Liberation Sans","fontWeight":"bold","fontSize":23,"align":"left","baseline":"alphabetic","dx":113,"dy":35,"color":"#000"},"encoding":{"text":{"field":"kt"}}}
 ]
},
"config":{
 "view":{"stroke":"#000","strokeWidth":1.3,"fill":"white"},
 "axis":{"grid":false,"domainColor":"#000","domainWidth":1.3,"tickColor":"#000","tickWidth":1.3,"labelFont":"Lato","labelFontSize":20,"labelColor":"#000","titleFont":"Lato","titleFontSize":23,"titleFontWeight":"normal","titleColor":"#000","labelOverlap":false,"labelFlush":false}
}
}
